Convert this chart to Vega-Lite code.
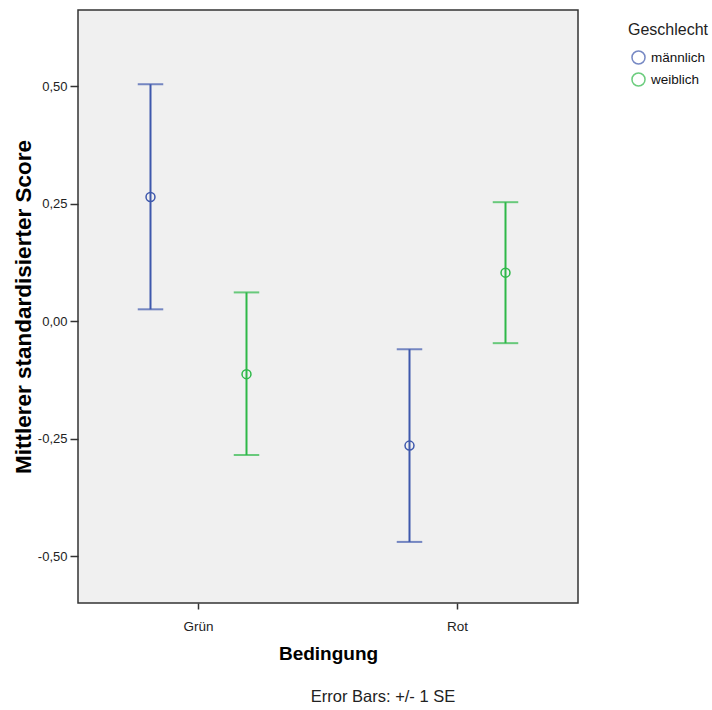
{
  "$schema": "https://vega.github.io/schema/vega-lite/v6.json",
  "width": 500,
  "height": 593,
  "autosize": {"type": "none"},
  "padding": {"left": 78, "top": 10, "right": 134, "bottom": 107},
  "background": "white",
  "data": {"values": [
    {"Bedingung": "Grün", "Geschlecht": "männlich", "mean": 0.264, "lower": 0.025, "upper": 0.504},
    {"Bedingung": "Grün", "Geschlecht": "weiblich", "mean": -0.113, "lower": -0.285, "upper": 0.061},
    {"Bedingung": "Rot", "Geschlecht": "männlich", "mean": -0.265, "lower": -0.470, "upper": -0.060},
    {"Bedingung": "Rot", "Geschlecht": "weiblich", "mean": 0.103, "lower": -0.047, "upper": 0.253}
  ]},
  "title": {
    "text": "Error Bars: +/- 1 SE",
    "orient": "bottom",
    "anchor": "middle",
    "frame": "group",
    "dx": 55,
    "offset": 25,
    "font": "Liberation Sans",
    "fontSize": 16.5,
    "fontWeight": "normal",
    "color": "#222"
  },
  "encoding": {
    "x": {
      "field": "Bedingung",
      "type": "nominal",
      "scale": {"paddingInner": 0.2587, "paddingOuter": 0.0946},
      "axis": {
        "title": "Bedingung",
        "labelAngle": 0,
        "domain": false,
        "tickColor": "#333",
        "tickSize": 6,
        "tickWidth": 1.5,
        "labelFont": "Liberation Sans",
        "labelFontSize": 13.5,
        "labelColor": "#222",
        "labelPadding": 10,
        "titleFont": "Liberation Sans",
        "titleFontSize": 19,
        "titleFontWeight": "bold",
        "titleColor": "#000",
        "titlePadding": 12
      }
    },
    "xOffset": {"field": "Geschlecht", "type": "nominal", "scale": {"paddingInner": 0, "paddingOuter": 0}},
    "color": {
      "field": "Geschlecht",
      "type": "nominal",
      "scale": {"domain": ["männlich", "weiblich"], "range": ["#3E58AC", "#2EB848"]},
      "legend": {
        "orient": "right",
        "offset": 38,
        "padding": 12,
        "title": "Geschlecht",
        "titleFont": "Liberation Sans",
        "titleFontSize": 16,
        "titleFontWeight": "normal",
        "titleColor": "#222",
        "titlePadding": 12,
        "labelFont": "Liberation Sans",
        "labelFontSize": 13.5,
        "labelColor": "#111",
        "labelOffset": 5,
        "symbolType": "circle",
        "symbolSize": 170,
        "symbolOffset": 3,
        "symbolStrokeWidth": 1.5,
        "symbolFillColor": "transparent",
        "rowPadding": 1
      }
    }
  },
  "layer": [
    {
      "mark": {"type": "rule", "strokeWidth": 2},
      "encoding": {
        "y": {
          "field": "lower",
          "type": "quantitative",
          "scale": {"domain": [-0.6, 0.662], "nice": false, "zero": false},
          "axis": {
            "title": "Mittlerer standardisierter Score",
            "values": [-0.5, -0.25, 0, 0.25, 0.5],
            "format": ".2f",
            "grid": false,
            "domain": false,
            "tickColor": "#333",
            "tickSize": 8,
            "tickWidth": 1.5,
            "labelFont": "Liberation Sans",
            "labelFontSize": 13,
            "labelColor": "#222",
            "labelPadding": 3,
            "titleFont": "Liberation Sans",
            "titleFontSize": 22.5,
            "titleFontWeight": "bold",
            "titleColor": "#000",
            "titlePadding": 2
          }
        },
        "y2": {"field": "upper"}
      }
    },
    {
      "mark": {"type": "tick", "filled": false, "thickness": 0.5, "strokeWidth": 1.5, "size": 24},
      "encoding": {"y": {"field": "upper", "type": "quantitative"}}
    },
    {
      "mark": {"type": "tick", "filled": false, "thickness": 0.5, "strokeWidth": 1.5, "size": 24},
      "encoding": {"y": {"field": "lower", "type": "quantitative"}}
    },
    {
      "mark": {"type": "point", "shape": "circle", "filled": false, "size": 80, "strokeWidth": 1.5, "opacity": 1},
      "encoding": {"y": {"field": "mean", "type": "quantitative"}}
    }
  ],
  "config": {
    "locale": {
      "number": {"decimal": ",", "thousands": ".", "grouping": [3], "currency": ["", " €"], "minus": "-"}
    },
    "view": {"fill": "#F0F0F0", "stroke": "#333", "strokeWidth": 1.5}
  }
}
